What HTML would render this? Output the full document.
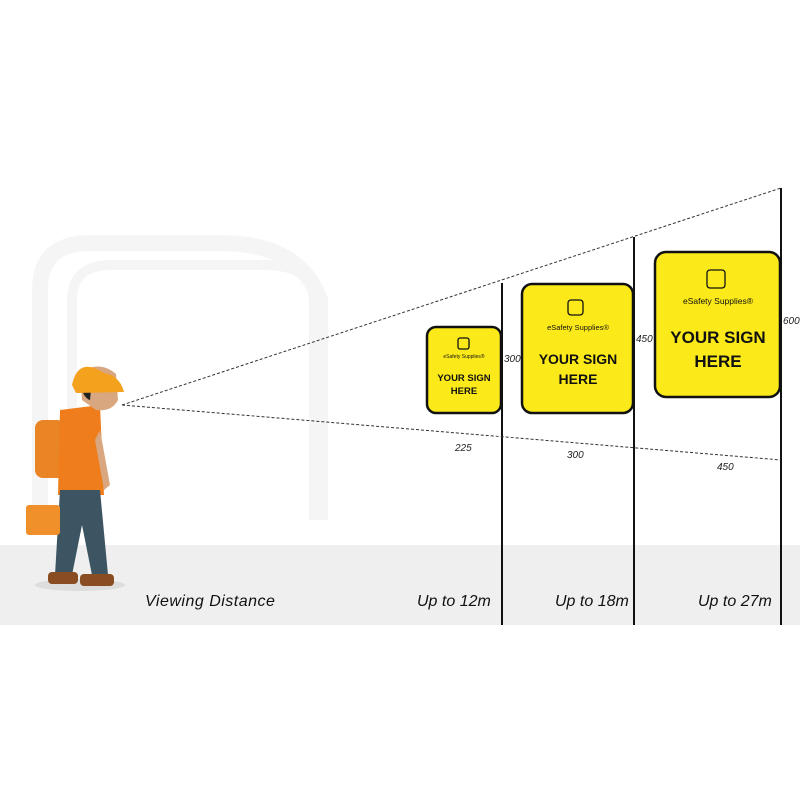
<!DOCTYPE html>
<html><head><style>
body{margin:0;width:800px;height:800px;background:#fff;overflow:hidden}
svg{display:block}
text{font-family:"Liberation Sans",sans-serif}
</style></head><body>
<svg width="800" height="800" viewBox="0 0 800 800">
<rect x="0" y="545" width="800" height="80" fill="#efefef"/>
<path d="M40 520 V290 Q40 243 90 243 H220 Q300 243 320 300 V520" fill="none" stroke="#f5f5f5" stroke-width="16"/>
<path d="M72 520 V300 Q72 265 112 265 H265 Q312 265 314 300 V520" fill="none" stroke="#f5f5f5" stroke-width="10"/>
<line x1="502" y1="283" x2="502" y2="625" stroke="#111" stroke-width="2"/>
<line x1="634" y1="237" x2="634" y2="625" stroke="#111" stroke-width="2"/>
<line x1="781" y1="188" x2="781" y2="625" stroke="#111" stroke-width="2"/>
<line x1="122" y1="405" x2="781" y2="188" stroke="#333" stroke-width="1" stroke-dasharray="3,2"/>
<line x1="122" y1="405" x2="781" y2="460" stroke="#333" stroke-width="1" stroke-dasharray="3,2"/>
<g stroke="#111" stroke-width="2.5" fill="#fbe91a">
<rect x="427" y="327" width="74" height="86" rx="9"/>
<rect x="522" y="284" width="111" height="129" rx="10"/>
<rect x="655" y="252" width="125" height="145" rx="11"/>
</g>
<g fill="none" stroke="#111" stroke-width="1.3">
<rect x="458" y="338" width="11" height="11" rx="2"/>
<rect x="568" y="300" width="15" height="15" rx="3"/>
<rect x="707" y="270" width="18" height="18" rx="3"/>
</g>
<g fill="#111" text-anchor="middle">
<text x="464" y="358" font-size="5">eSafety Supplies®</text>
<text x="464" y="381" font-size="9.5" font-weight="bold">YOUR SIGN</text>
<text x="464" y="394" font-size="9.5" font-weight="bold">HERE</text>
<text x="578" y="330" font-size="7.5">eSafety Supplies®</text>
<text x="578" y="364" font-size="14" font-weight="bold">YOUR SIGN</text>
<text x="578" y="384" font-size="14" font-weight="bold">HERE</text>
<text x="718" y="304" font-size="8.5">eSafety Supplies®</text>
<text x="718" y="343" font-size="17" font-weight="bold">YOUR SIGN</text>
<text x="718" y="367" font-size="17" font-weight="bold">HERE</text>
</g>
<g fill="#222" font-style="italic" font-size="10">
<text x="504" y="362">300</text>
<text x="636" y="342">450</text>
<text x="783" y="324">600</text>
<text x="455" y="451">225</text>
<text x="567" y="458">300</text>
<text x="717" y="470">450</text>
</g>
<g fill="#111" font-style="italic" font-size="16">
<text x="145" y="606" letter-spacing="0.5">Viewing Distance</text>
<text x="417" y="606">Up to 12m</text>
<text x="555" y="606">Up to 18m</text>
<text x="698" y="606">Up to 27m</text>
</g>
<ellipse cx="80" cy="585" rx="45" ry="6" fill="#ddd"/>
<rect x="35" y="420" width="30" height="58" rx="8" fill="#e98524"/>
<path d="M60 410 L100 405 L104 495 L58 495 Z" fill="#ef7d1c"/>
<path d="M60 490 L100 490 L108 575 L92 575 L82 525 L72 575 L55 575 Z" fill="#3d5563"/>
<rect x="48" y="572" width="30" height="12" rx="4" fill="#8a4d22"/>
<rect x="80" y="574" width="34" height="12" rx="4" fill="#8a4d22"/>
<rect x="26" y="505" width="34" height="30" rx="3" fill="#f0902a"/>
<path d="M80 372 Q100 360 116 374 L118 400 Q112 412 96 410 L82 400 Z" fill="#d9a77f"/>
<path d="M78 375 Q82 398 90 400 L92 380 Z" fill="#222"/>
<path d="M72 385 Q78 356 104 373 Q120 376 124 392 L76 393 Z" fill="#f4a11d"/>
<path d="M100 430 L110 485 L104 490 L95 440 Z" fill="#d9a77f"/>
</svg>
</body></html>
